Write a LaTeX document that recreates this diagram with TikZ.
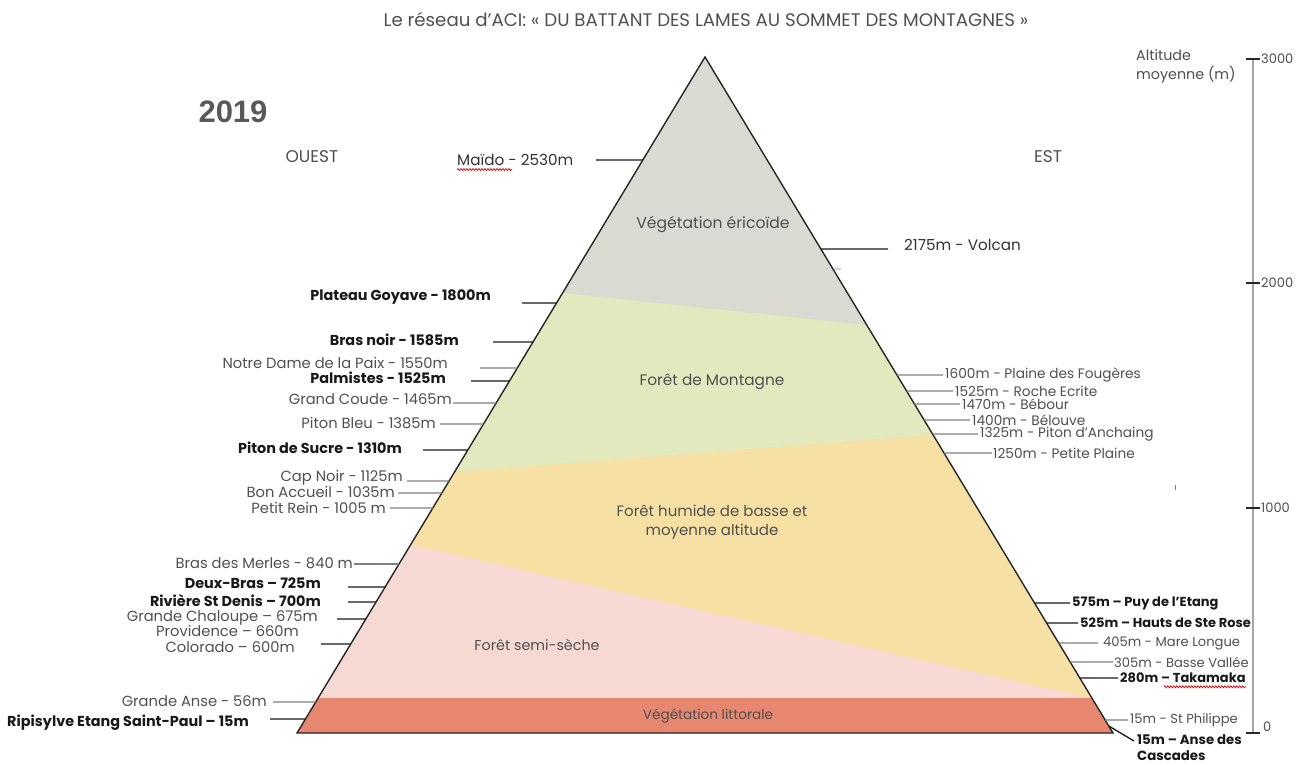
\documentclass[tikz,border=0pt]{standalone}
\usepackage{fontspec}
\setmainfont{Poppins}
\newfontfamily\arialf{Liberation Sans}
\usetikzlibrary{calc,decorations.pathmorphing}
\definecolor{cGrey}{HTML}{DADAD3}
\definecolor{cGreen}{HTML}{E3E9BE}
\definecolor{cYellow}{HTML}{F7E0A3}
\definecolor{cPink}{HTML}{F6D9D3}
\definecolor{cLitt}{HTML}{E8876F}
\definecolor{txtN}{HTML}{505050}
\definecolor{lnGrey}{HTML}{808080}
\tikzset{
  lblN/.style={font=\fontsize{14.7}{16}\selectfont, text=txtN, inner sep=0pt},
  lblB/.style={font=\fontsize{14.4}{16}\selectfont\bfseries, text=black!90, inner sep=0pt},
  lblNr/.style={font=\fontsize{13.7}{15}\selectfont, text=txtN, inner sep=0pt},
  lblNs/.style={font=\fontsize{13.1}{15}\selectfont, text=txtN, inner sep=0pt},
  lblBr/.style={font=\fontsize{13}{15}\selectfont\bfseries, text=black!90, inner sep=0pt},
  lblV/.style={font=\fontsize{15.2}{17}\selectfont, text=black!80, inner sep=0pt},
  lnN/.style={draw=lnGrey, line width=1.1pt},
  lnB/.style={draw=black!90, line width=1.3pt},
  bandtxt/.style={font=\fontsize{15}{19}\selectfont, text=txtN, align=center, inner sep=0pt},
  axtxt/.style={font=\fontsize{13}{15}\selectfont, text=txtN, inner sep=0pt, anchor=west},
  spell/.style={draw=red!85!black, line width=0.7pt, decorate, decoration={snake, segment length=3pt, amplitude=1pt}}
}
\begin{document}
\begin{tikzpicture}[x=1pt,y=-1pt]
\useasboundingbox[fill=white] (0,0) rectangle (1306,765);
\coordinate (A) at (705,57);
\coordinate (L) at (297,733);
\coordinate (R) at (1113,733);
% bands
\fill[cGrey] (A) -- (L) -- (R) -- cycle;
\fill[cGreen] (562.6,293) -- (866.7,325) -- (933.1,435) -- (454.5,472) -- cycle;
\fill[cYellow] (454.5,472) -- (933.1,435) -- (1091.9,698) -- (318.1,698) -- cycle;
\fill[cPink] (410.5,545) -- (1089,698) -- (318.1,698) -- cycle;
\fill[cLitt] (318.1,698) -- (1091.9,698) -- (R) -- (L) -- cycle;
\draw[black!85, line width=1.4pt, line join=miter] (A) -- (L) -- (R) -- cycle;
% band labels
\node[bandtxt, font=\fontsize{15.6}{19}\selectfont] (b1) at (713,225) {Végétation éricoïde};
\node[bandtxt, font=\fontsize{15.3}{19}\selectfont] (b2) at (712,382) {Forêt de Montagne};
\node[bandtxt] (b3) at (712,522) {Forêt humide de basse et\\moyenne altitude};
\node[bandtxt, font=\fontsize{14.3}{17}\selectfont] (b4) at (537,645) {Forêt semi-sèche};
\node[bandtxt, font=\fontsize{13.6}{15}\selectfont] (b5) at (708,716) {Végétation littorale};
% title etc
\node[font=\fontsize{18.2}{20}\selectfont, text=txtN, inner sep=0pt] (title) at (706,19) {Le réseau d’ACI: « DU BATTANT DES LAMES AU SOMMET DES MONTAGNES »};
\node[font=\arialf\bfseries\fontsize{31}{34}\selectfont, text=black!65, inner sep=0pt] (yr) at (233,112) {2019};
\node[font=\fontsize{17}{19}\selectfont, text=txtN, inner sep=0pt] (ouest) at (312,157) {OUEST};
\node[font=\fontsize{17}{19}\selectfont, text=txtN, inner sep=0pt] (est) at (1048,157) {EST};
% Maido
\node[lblV, anchor=west] (maido) at (457,160) {Maïdo - 2530m};
\coordinate (ma) at (596,160);
\coordinate (mb) at ($(A)!{(160-57)/676}!(L)$);
\draw[lnB] (ma) -- (mb);
\draw[spell] ($(maido.base west)+(0,4)$) -- ++(55,0);
% left labels
\foreach \t/\x/\y/\lx/\ly/\s/\l [count=\i] in {
  Plateau Goyave - 1800m/491/297/522/303/lblB/lnB,
  Bras noir - 1585m/459/340/493/342/lblB/lnB,
  Notre Dame de la Paix - 1550m/448/363/480/368/lblN/lnN,
  Palmistes - 1525m/446/378/471/381/lblB/lnB,
  Grand Coude - 1465m/452/399/453/403/lblN/lnN,
  Piton Bleu - 1385m/436/423/440/424/lblN/lnN,
  Piton de Sucre - 1310m/402/448/423/450/lblB/lnB,
  Cap Noir - 1125m/403/478/407/481/lblN/lnN,
  Bon Accueil - 1035m/395/492/398/493/lblN/lnN,
  Petit Rein - 1005 m/386/508/390/508/lblN/lnN,
  Bras des Merles - 840 m/353/563/354/564/lblN/lnN,
  Deux-Bras – 725m/321/583/348/587/lblB/lnB,
  Rivière St Denis – 700m/321/601/348/602/lblB/lnB,
  Grande Chaloupe – 675m/318/618/337/619/lblN/lnB,
  Colorado – 600m/295/647/321/644/lblN/lnB,
  Grande Anse - 56m/267/701/273/702/lblN/lnN,
  Ripisylve Etang Saint-Paul – 15m/249/723/270/719/lblB/lnB}{
  \node[\s, anchor=east] (wl\i) at (\x,\y) {\t};
  \coordinate (wa\i) at (\lx,\ly);
  \coordinate (wb\i) at ($(A)!{(\ly-57)/676}!(L)$);
  \draw[\l] (wa\i) -- (wb\i);
}
\node[lblN, anchor=east] (prov) at (299,631) {Providence – 660m};
% right labels
\foreach \t/\x/\y/\lx/\ly/\s/\l [count=\i] in {
  2175m - Volcan/904/245/888/249/lblV/lnB,
  1600m - Plaine des Fougères/945/375/943/375/lblNr/lnN,
  1525m - Roche Ecrite/955/391/953/391/lblNr/lnN,
  1470m - Bébour/962/404/960/404/lblNr/lnN,
  1400m - Bélouve/972/420/970/420/lblNr/lnN,
  1325m - Piton d’Anchaing/980/434/978/434/lblNr/lnN,
  1250m - Petite Plaine/993/453/992/453/lblNr/lnN,
  575m – Puy de l’Etang/1072/603/1070/603/lblBr/lnB,
  525m – Hauts de Ste Rose/1080/623/1078/623/lblBr/lnB,
  405m - Mare Longue/1103/643/1098/643/lblNs/lnN,
  305m - Basse Vallée/1114/662/1113/662/lblNs/lnN,
  280m – Takamaka/1120/678/1118/678/lblBr/lnB,
  15m - St Philippe/1130/720/1128/720/lblNs/lnN}{
  \node[\s, anchor=west] (el\i) at (\x,\y) {\t};
  \coordinate (ea\i) at ($(A)!{(\ly-57)/676}!(R)$);
  \coordinate (eb\i) at (\lx,\ly);
  \draw[\l] (ea\i) -- (eb\i);
}
\draw[spell] ($(el12.base east)+(-82,4)$) -- ++(82,0);
\node[lblBr, anchor=north west, align=left, font=\fontsize{13.3}{16}\selectfont\bfseries] (anse) at (1137,734) {15m – Anse des\\Cascades};
\coordinate (ansea) at ($(A)!{(726-57)/676}!(R)$);
\coordinate (anseb) at (1134,741);
\draw[lnB] (ansea) -- (anseb);
% small marks
\coordinate (sm1) at ($(A)!{(269-57)/676}!(R)$);
\coordinate (sm2) at (841,269);
\draw[lnN, line width=0.8pt] (sm1) -- (sm2);
\coordinate (sm3) at (1175,485);
\coordinate (sm4) at (1175,490);
\draw[lnN, line width=0.8pt] (sm3) -- (sm4);
% axis
\coordinate (axt) at (1253,59);
\coordinate (axb) at (1253,733);
\draw[draw=gray!70, line width=1.8pt] (axt) -- (axb);
\foreach \v/\yy [count=\i] in {3000/59,2000/283,1000/508,0/733}{
  \coordinate (tk\i a) at (1246,\yy);
  \coordinate (tk\i b) at (1260,\yy);
  \draw[black!85, line width=1.4pt] (tk\i a) -- (tk\i b);
}
\node[axtxt] (ax1) at (1261,59) {3000};
\node[axtxt] (ax2) at (1261,283) {2000};
\node[axtxt] (ax3) at (1261,508) {1000};
\node[axtxt] (ax4) at (1263,727) {0};
\node[font=\fontsize{14.3}{19}\selectfont, text=txtN, inner sep=0pt, anchor=north west, align=left] (alt) at (1136,49) {Altitude\\moyenne (m)};
\end{tikzpicture}
\end{document}
